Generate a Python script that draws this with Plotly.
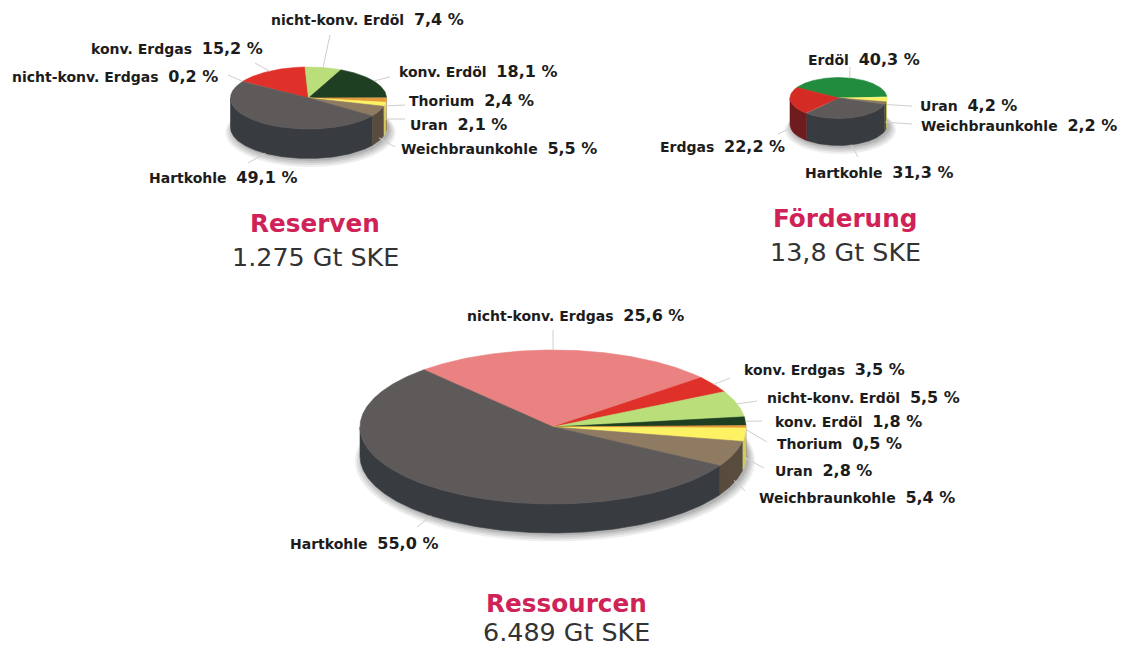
import numpy as np
import plotly.graph_objects as go

# ---- data ----
reserven_names = ["nicht-konv. Erdgas", "konv. Erdgas", "nicht-konv. Erdöl", "konv. Erdöl",
                  "Thorium", "Uran", "Weichbraunkohle", "Hartkohle"]
reserven_values = [0.2, 15.2, 7.4, 18.1, 2.4, 2.1, 5.5, 49.1]
ressourcen_names = list(reserven_names)
ressourcen_values = [25.6, 3.5, 5.5, 1.8, 0.5, 2.8, 5.4, 55.0]
foerderung_names = ["Erdöl", "Uran", "Weichbraunkohle", "Hartkohle", "Erdgas"]
foerderung_values = [40.3, 4.2, 2.2, 31.3, 22.2]

titles = ["Reserven", "Förderung", "Ressourcen"]
totals = ["1.275 Gt SKE", "13,8 Gt SKE", "6.489 Gt SKE"]

# ---- styles ----
TOP = {"nicht-konv. Erdgas": "#e98280", "konv. Erdgas": "#e0302a", "Erdgas": "#d42c24",
       "nicht-konv. Erdöl": "#b9de7a", "konv. Erdöl": "#1e3f22", "Erdöl": "#228c3e",
       "Thorium": "#e69a3a", "Uran": "#fdf164", "Weichbraunkohle": "#8f7a62", "Hartkohle": "#5f5a5a"}
SIDE = {"nicht-konv. Erdgas": "#8a4a4a", "konv. Erdgas": "#7a1f1f", "Erdgas": "#6e1c1e",
        "nicht-konv. Erdöl": "#7d9650", "konv. Erdöl": "#142a16", "Erdöl": "#165c28",
        "Thorium": "#a06a28", "Uran": "#cfcc5e", "Weichbraunkohle": "#574c3e", "Hartkohle": "#383c41"}
SHADOW = [(7, 5, 0.10), (5, 4, 0.12), (3, 3, 0.14), (1, 2, 0.18)]

# layout: pie (cx, cy, rx, ry, depth, start angle), title x, title y, total y
# leaders: end x, end y, fraction of the wall height at the slice end, angle nudge
PIES = [
    dict(names=reserven_names, values=reserven_values, geom=(308.5, 98, 78, 31, 29.5, 148), title=(315, 223, 257),
         labels=[(10, 76), (89, 48), (269, 19), (397, 71), (407, 100), (408, 124), (399, 148), (147, 177)],
         leaders=[(228, 75, 0, 0), (255, 63, 0, 0), (330, 35, 0, 0), (390, 77, 0, 0), (405, 105, 0.2, 0),
                  (405, 119, 0.5, 0), (395, 147, 0.9, 0), (248, 163, 1, 0)]),
    dict(names=foerderung_names, values=foerderung_values, geom=(838.5, 98, 48.5, 20.5, 27, 149), title=(845, 218, 252),
         labels=[(806, 59), (918, 105), (919, 125), (803, 172), (658, 146)],
         leaders=[(850, 67, 0, 0), (912, 106, 0.2, 0), (912, 124, 0.7, 0), (858, 157, 1, 0), (778, 134, 1, 0)]),
    dict(names=ressourcen_names, values=ressourcen_values, geom=(553, 427, 193, 77, 29, 132), title=(566, 603, 632),
         labels=[(465, 315), (742, 369), (765, 397), (773, 421), (775, 443), (773, 470), (757, 497), (288, 543)],
         leaders=[(553, 330, 0, 4), (730, 378, 0, 0), (757, 401, 0, 0), (762, 421, 0, 0), (767, 442, 0.1, 0),
                  (764, 468, 0.8, 0), (745, 491, 0.9, 0), (417, 527, 1, 0)]),
]

fig = go.Figure()


def arc(cx, cy, rx, ry, a0, a1, dy=0.0):
    n = max(int(abs(a1 - a0) * 2), 2)
    t = np.radians(np.linspace(a0, a1, n))
    return cx + rx * np.cos(t), cy - ry * np.sin(t) + dy


def poly(x, y, color, name, opacity=1.0, width=0.6):
    fig.add_trace(go.Scatter(x=list(x), y=list(y), mode="lines", fill="toself", fillcolor=color,
                             line=dict(color=color, width=width), opacity=opacity,
                             name=name, hoverinfo="skip", showlegend=False))


annotations = []
for pie in PIES:
    cx, cy, rx, ry, depth, start = pie["geom"]
    values = np.array(pie["values"], dtype=float)
    sweep = values / values.sum() * 360.0
    ends = start - np.cumsum(sweep)
    starts = ends + sweep

    # soft ground shadow
    for grow, drop, op in SHADOW:
        x, y = arc(cx + 2, cy, rx + grow, ry + grow * 0.5, 0, 360, depth + drop)
        poly(x, y, "#555555", "Schatten", op, 0)

    # side wall: only the front half of the rim (180..360 deg) is visible
    for name, a0, a1 in zip(pie["names"], starts, ends):
        for shift in (0, -360):
            hi = min(a0 + shift, 0) if shift == -360 else min(a0, 0)
            lo = max(a1 + shift, -180) if shift == -360 else max(a1, -180)
            if hi > lo:
                xt, yt = arc(cx, cy, rx, ry, hi, lo)
                xb, yb = arc(cx, cy, rx, ry, lo, hi, depth)
                poly(np.r_[xt, xb], np.r_[yt, yb], SIDE[name], name)

    # top face
    for name, a0, a1 in zip(pie["names"], starts, ends):
        xa, ya = arc(cx, cy, rx, ry, a0, a1)
        poly(np.r_[cx, xa, cx], np.r_[cy, ya, cy], TOP[name], name)

    # leader lines and labels
    for name, val, a0, a1, lab, lead in zip(pie["names"], values, starts, ends, pie["labels"], pie["leaders"]):
        mid = np.radians((a0 + a1) / 2 + lead[3])
        sx = cx + rx * np.cos(mid)
        sy = cy - ry * np.sin(mid) + lead[2] * depth
        fig.add_trace(go.Scatter(x=[sx, lead[0]], y=[sy, lead[1]], mode="lines",
                                 line=dict(color="#cfcfcf", width=1), hoverinfo="skip", showlegend=False))
        pct = f"{val:.1f}".replace(".", ",")
        annotations.append(dict(
            x=lab[0], y=lab[1], xref="x", yref="y", xanchor="left", yanchor="middle", showarrow=False,
            text=f"<b>{name}  <span style='font-size:16px'>{pct} %</span></b>",
            font=dict(family="DejaVu Sans", size=14, color="#1c1c1c")))

for pie, title, total in zip(PIES, titles, totals):
    tx, ty, ty2 = pie["title"]
    annotations.append(dict(x=tx, y=ty, xref="x", yref="y", showarrow=False, text=f"<b>{title}</b>",
                            font=dict(family="DejaVu Sans", size=24.7, color="#cf2358")))
    annotations.append(dict(x=tx, y=ty2, xref="x", yref="y", showarrow=False, text=total,
                            font=dict(family="DejaVu Sans", size=25.4, color="#333333")))

fig.update_layout(
    width=1122, height=650, margin=dict(l=0, r=0, t=0, b=0), paper_bgcolor="white", plot_bgcolor="white",
    showlegend=False, annotations=annotations,
    xaxis=dict(range=[0, 1122], visible=False, fixedrange=True),
    yaxis=dict(range=[650, 0], visible=False, fixedrange=True),
)
fig.write_html("out.html", config=dict(displayModeBar=False),
               post_script="document.body.style.margin='0';document.body.style.overflow='hidden';")
